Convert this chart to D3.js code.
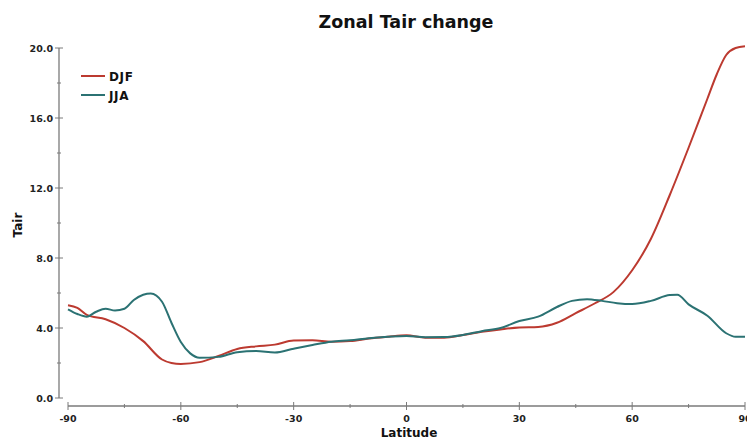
<!DOCTYPE html>
<html>
<head>
<meta charset="utf-8">
<script src="https://cdn.jsdelivr.net/npm/d3@7"></script>
<style>
  body { margin: 0; background: #fff; }
  svg { display: block; font-family: "DejaVu Sans", Arial, sans-serif; }
</style>
</head>
<body>
<svg id="chart" width="747" height="441"></svg>
<script>
// data
var djfLat = [-90, -87.5, -85, -80, -75, -70, -65, -62.5, -60, -55, -50, -45, -40, -35, -30, -25, -20, -15, -10, -5, 0, 5, 10, 15, 20, 25, 30, 35, 40, 45, 50, 55, 60, 65, 70, 75, 80, 82.5, 85, 87.5, 90];
var djfVal = [5.3, 5.15, 4.75, 4.5, 4.0, 3.25, 2.2, 2.0, 1.95, 2.05, 2.4, 2.8, 2.95, 3.05, 3.28, 3.3, 3.22, 3.25, 3.4, 3.5, 3.58, 3.45, 3.45, 3.6, 3.78, 3.92, 4.03, 4.06, 4.3, 4.85, 5.4, 6.05, 7.3, 9.1, 11.6, 14.3, 17.1, 18.5, 19.6, 20.0, 20.1];

var jjaLat = [-90, -87.5, -85, -82.5, -80, -77.5, -75, -72.5, -70, -68, -65, -62.5, -60, -57.5, -55, -50, -45, -40, -35, -30, -25, -20, -15, -10, -5, 0, 5, 10, 15, 20, 25, 30, 35, 40, 44, 48, 52, 56, 60, 65, 70, 72, 75, 80, 85, 87.5, 90];
var jjaVal = [5.07, 4.8, 4.65, 4.93, 5.1, 5.0, 5.1, 5.6, 5.9, 5.97, 5.5, 4.3, 3.2, 2.55, 2.3, 2.35, 2.62, 2.68, 2.6, 2.82, 3.03, 3.22, 3.3, 3.42, 3.5, 3.55, 3.47, 3.48, 3.6, 3.82, 4.0, 4.4, 4.65, 5.2, 5.55, 5.65, 5.55, 5.42, 5.37, 5.55, 5.88, 5.9, 5.35, 4.7, 3.7, 3.5, 3.5];

var seriesNames = ["DJF", "JJA"];
var seriesColors = ["#bc3a30", "#2b7273"];
var xTicks = [-90, -60, -30, 0, 30, 60, 90];
var yTicks = [0, 4, 8, 12, 16, 20];

var svg = d3.select("#chart");

var x = d3.scaleLinear().domain([-90, 90]).range([68, 745]);
var y = d3.scaleLinear().domain([0, 20]).range([398, 48]);

var axisColor = "#7a7a7a";

// title
svg.append("text")
    .attr("x", 406).attr("y", 28)
    .attr("text-anchor", "middle")
    .attr("font-size", 17.5).attr("font-weight", "bold")
    .attr("fill", "#111")
    .text("Zonal Tair change");

// y axis
var yAxis = svg.append("g");
yAxis.append("line")
    .attr("x1", 59).attr("x2", 59)
    .attr("y1", y(0)).attr("y2", y(20))
    .attr("stroke", axisColor).attr("stroke-width", 1.3);
yAxis.selectAll("line.minor")
    .data(d3.range(2, 20, 4))
    .enter().append("line")
    .attr("class", "minor")
    .attr("x1", 57).attr("x2", 61)
    .attr("y1", function(d) { return y(d); })
    .attr("y2", function(d) { return y(d); })
    .attr("stroke", axisColor);
yAxis.selectAll("line.major")
    .data(yTicks)
    .enter().append("line")
    .attr("class", "major")
    .attr("x1", 55).attr("x2", 63)
    .attr("y1", function(d) { return y(d); })
    .attr("y2", function(d) { return y(d); })
    .attr("stroke", axisColor);
yAxis.selectAll("text")
    .data(yTicks)
    .enter().append("text")
    .attr("x", 53)
    .attr("y", function(d) { return y(d) + 3.5; })
    .attr("text-anchor", "end")
    .attr("font-size", 9.5).attr("font-weight", "bold")
    .attr("fill", "#222")
    .text(function(d) { return d.toFixed(1); });

// x axis
var xAxis = svg.append("g");
xAxis.append("line")
    .attr("x1", x(-90)).attr("x2", x(90))
    .attr("y1", 406).attr("y2", 406)
    .attr("stroke", axisColor).attr("stroke-width", 1.3);
xAxis.selectAll("line.minor")
    .data(d3.range(-75, 90, 30))
    .enter().append("line")
    .attr("class", "minor")
    .attr("x1", function(d) { return x(d); })
    .attr("x2", function(d) { return x(d); })
    .attr("y1", 404).attr("y2", 408)
    .attr("stroke", axisColor);
xAxis.selectAll("line.major")
    .data(xTicks)
    .enter().append("line")
    .attr("class", "major")
    .attr("x1", function(d) { return x(d); })
    .attr("x2", function(d) { return x(d); })
    .attr("y1", 402).attr("y2", 410)
    .attr("stroke", axisColor);
xAxis.selectAll("text")
    .data(xTicks)
    .enter().append("text")
    .attr("x", function(d) { return x(d); })
    .attr("y", 422)
    .attr("text-anchor", "middle")
    .attr("font-size", 9.5).attr("font-weight", "bold")
    .attr("fill", "#222")
    .text(function(d) { return d; });

// axis titles
svg.append("text")
    .attr("x", 409).attr("y", 437)
    .attr("text-anchor", "middle")
    .attr("font-size", 12).attr("font-weight", "bold")
    .attr("fill", "#111")
    .text("Latitude");
svg.append("text")
    .attr("transform", "translate(22,225) rotate(-90)")
    .attr("text-anchor", "middle")
    .attr("font-size", 12).attr("font-weight", "bold")
    .attr("fill", "#111")
    .text("Tair");

// lines
var line = d3.line()
    .x(function(d) { return x(d[0]); })
    .y(function(d) { return y(d[1]); })
    .curve(d3.curveMonotoneX);

var series = [d3.zip(djfLat, djfVal), d3.zip(jjaLat, jjaVal)];
series.forEach(function(s, i) {
    svg.append("path")
        .datum(s)
        .attr("fill", "none")
        .attr("stroke", seriesColors[i])
        .attr("stroke-width", 2)
        .attr("stroke-linejoin", "round")
        .attr("d", line);
});

// legend
var legend = svg.append("g");
seriesNames.forEach(function(name, i) {
    var ly = 76 + i * 19;
    legend.append("line")
        .attr("x1", 81).attr("x2", 105)
        .attr("y1", ly).attr("y2", ly)
        .attr("stroke", seriesColors[i]).attr("stroke-width", 2);
    legend.append("text")
        .attr("x", 109).attr("y", ly + 4.5)
        .attr("font-size", 12).attr("font-weight", "bold")
        .attr("letter-spacing", 0.6)
        .attr("fill", "#111")
        .text(name);
});
</script>
</body>
</html>
